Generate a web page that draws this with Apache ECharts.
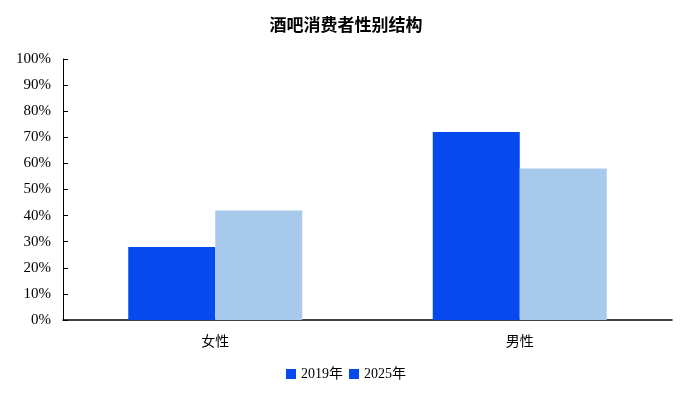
<!DOCTYPE html>
<html><head><meta charset="utf-8">
<script src="https://cdn.jsdelivr.net/npm/echarts@6/dist/echarts.min.js"></script>
<style>html,body{margin:0;padding:0;background:#fff}#c{width:692px;height:402px}</style>
</head><body><div id="c"></div>
<script>
const categories = ['女性', '男性'];
const seriesNames = ['2019年', '2025年'];
const values2019 = [28, 72];
const values2025 = [42, 58];
const yTicks = [0, 10, 20, 30, 40, 50, 60, 70, 80, 90, 100];

const dark = '#0549EF', light = '#A7C9EC';
const chart = echarts.init(document.getElementById('c'));
chart.setOption({
  animation: false,
  title: { text: '酒吧消费者性别结构', left: 'center', top: 11,
    textStyle: { fontFamily: '"Noto Sans CJK SC", serif', fontWeight: 'bold', fontSize: 17, color: '#000' } },
  legend: { bottom: 16, left: 'center', itemWidth: 10, itemHeight: 10, itemGap: 6,
    textStyle: { fontFamily: '"Liberation Serif", "Noto Sans CJK SC", serif', fontSize: 14, color: '#000' },
    data: [{ name: seriesNames[0], icon: 'rect', itemStyle: { color: dark } },
           { name: seriesNames[1], icon: 'rect', itemStyle: { color: dark } }] },
  grid: { left: 63, right: 20, top: 59, bottom: 82 },
  xAxis: { type: 'category', data: categories,
    axisLine: { lineStyle: { color: '#000', width: 1.5 } }, axisTick: { show: false },
    axisLabel: { margin: 14, fontSize: 14, color: '#000', fontFamily: '"Noto Sans CJK SC", sans-serif' } },
  yAxis: { type: 'value', min: 0, max: 100, interval: 10,
    axisLine: { show: true, lineStyle: { color: '#000', width: 1 } },
    axisTick: { show: true, inside: true, length: 5, lineStyle: { color: '#000' } },
    splitLine: { show: false },
    axisLabel: { margin: 12, fontSize: 15, color: '#000', fontFamily: '"Liberation Serif", serif',
      formatter: v => yTicks.includes(v) ? v + '%' : '' } },
  series: [
    { name: seriesNames[0], type: 'bar', data: values2019, barWidth: 87, barGap: '0%', itemStyle: { color: dark } },
    { name: seriesNames[1], type: 'bar', data: values2025, barWidth: 87, barGap: '0%', itemStyle: { color: light } }
  ]
});
</script></body></html>
